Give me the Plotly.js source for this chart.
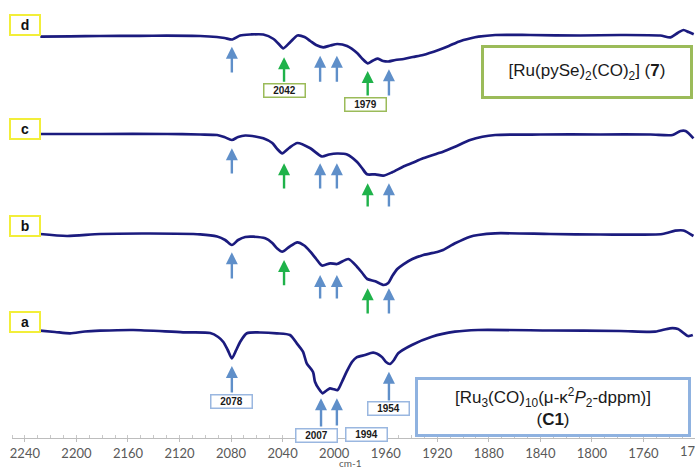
<!DOCTYPE html>
<html>
<head>
<meta charset="utf-8">
<script src="https://cdn.plot.ly/plotly-3.0.1.min.js"></script>
<style>html,body{margin:0;padding:0;background:#fff;}#chart{width:695px;height:467px;}</style>
</head>
<body>
<div id="chart"></div>
<script>
// ---- Data (wavenumber in cm-1, transmittance-like relative units, baseline ~100) ----
const wnD = [2228,2205,2182,2151,2130,2104,2091,2085,2079,2073,2065,2055,2047,2043,2039.5,2034,2028.5,2023,2018.5,2014,2008.5,2003,1997.5,1990,1982,1978,1974,1970.5,1966.5,1962,1958,1952.5,1946,1939,1931,1919,1911,1903.5,1894,1888,1875,1848,1809,1778,1747,1739,1733.5,1729,1725,1721];
const tD  = [98.3,98.7,99,99.2,99.3,99,98,97,95.5,99.5,100.5,100.5,96,91,86.7,93,99.5,98,94,90,87.7,89.5,91,89,81.7,76,71.7,74,76.3,74,73.5,75,76,78,80,85,89,93.3,96.7,98.3,100,100,99.5,100,99.5,97.7,102,105,103,100.7];

const wnC = [2228.3,2181.6,2129.6,2104,2090.8,2085.3,2079.4,2074.5,2069,2061.3,2055,2048,2044.2,2040.3,2035,2028.6,2018.5,2009.5,2004,1997.8,1990,1982.2,1978.4,1974.5,1968.2,1962,1955,1946.6,1939.6,1931,1919.4,1915.5,1906.2,1894.5,1885,1875,1840,1793.4,1754.5,1737.4,1731.2,1727.3,1721.2];
const tC  = [100,100,100,99.5,99,97,94,97,98.5,97.5,95.7,91,85,80.7,86,91,85.7,77.5,79.5,80.5,79.5,72,66,59.7,59.7,58.3,61.7,67.3,71,75.7,80.7,82.3,87.3,94,97.3,99,99.5,99.5,99.5,99,103,103,95.7];

const wnB = [2228.3,2207.3,2181.6,2142.8,2104,2090.8,2084.6,2079.4,2074.5,2069,2062.8,2053.5,2048,2044.2,2040.3,2035,2028.6,2023.2,2018.5,2013.9,2009.5,2003,1997.8,1989,1982.3,1978.2,1974.3,1968.1,1961.6,1958,1954.9,1951,1946.3,1939.3,1930.8,1919.4,1915.5,1906.2,1894.5,1888.3,1875.2,1832.4,1793.4,1745.3,1735.3,1729,1721.2];
const tB  = [100,98,100,100.5,99.7,97.5,94,89,94,97,97.3,95.7,91,85.5,82.3,87,91.7,88.5,82.3,75,68.5,70.7,70,75,67.3,61,55,52.7,49,51,58,65,69.7,75,79,82.3,84,90.7,97.3,99,100.7,100,99.5,100,103.3,103.5,98];

const wnA = [2228.3,2216.6,2205,2193.4,2181.6,2156,2117.3,2096.2,2090,2086,2082.6,2079.4,2076,2072.9,2067.7,2057.4,2044.5,2034.3,2029,2024.2,2021.3,2016.4,2014.9,2011.8,2008.9,2006.4,2003.3,2000.2,1997.3,1994,1990.3,1986.2,1982.6,1976.1,1969.7,1963.2,1959.8,1956.7,1953.6,1950.3,1939.7,1924.2,1906.3,1888.4,1832.5,1778.2,1751,1739.4,1733.2,1725.5,1721.7];
const tA  = [100.3,99,97.7,99.5,100.3,101,98.7,98,94,89,81,72.7,81,89.3,97.7,98.5,97.7,96,87.7,79.3,67.7,59,49.3,42,37.7,40,42.7,41.7,41,49,59.3,69,73.7,76,78.3,74.3,69,67,71,77.7,86,94.3,99.3,101,100.5,100,99.3,102.7,102,95,96];

const traceLetters = ["d","c","b","a"];
const tickVals = [2240,2200,2160,2120,2080,2040,2000,1960,1920,1880,1840,1800,1760];
const edgeTick = 1720;
const peakLabelsD = ["2042","1979"];
const peakLabelsA = ["2078","2007","1994","1954"];
const titleD = "[Ru(pySe)<sub>2</sub>(CO)<sub>2</sub>] (<b>7</b>)";
const titleA = "[Ru<sub>3</sub>(CO)<sub>10</sub>(μ-κ<sup>2</sup><i>P</i><sub>2</sub>-dppm)]<br>(<b>C1</b>)";
const xUnit = "cm-1";

// vertical stacking offsets (layout only)
const offsets = {d:303, c:204, b:104, a:7};
const H = 438; // y-axis span

function tr(x, t, off){
  return {x:x, y:t.map(v=>v+off), type:'scatter', mode:'lines',
    line:{color:'#1b1b7e', width:2.7, shape:'spline', smoothing:0.7},
    hoverinfo:'skip', showlegend:false};
}
const data = [tr(wnD,tD,offsets.d), tr(wnC,tC,offsets.c), tr(wnB,tB,offsets.b), tr(wnA,tA,offsets.a)];

const BLUE = '#5f8fc9', GREEN = '#1fb24a';
const ann = [];
function arrow(x, tipPy, tailPy, col){
  ann.push({x:x, y:H-tipPy, ax:x, ay:H-tailPy, xref:'x', yref:'y', axref:'x', ayref:'y',
    text:'', showarrow:true, arrowhead:2, arrowsize:1, arrowwidth:2.4, arrowcolor:col, standoff:0});
}
// trace d
arrow(2079.4,46.7,74,BLUE); arrow(2038.9,57.3,83.3,GREEN); arrow(2010.9,55.7,83.3,BLUE); arrow(1997.9,55.7,83.3,BLUE);
arrow(1974,71,97,GREEN); arrow(1957.5,69.3,97,BLUE);
// trace c
arrow(2079.4,148.3,175,BLUE); arrow(2038.9,163.3,190,GREEN); arrow(2010.9,163.3,190,BLUE); arrow(1997.9,163.3,190,BLUE);
arrow(1974,183.3,208,GREEN); arrow(1957.5,183.3,208,BLUE);
// trace b
arrow(2079.4,252.3,280,BLUE); arrow(2038.9,260,286.7,GREEN); arrow(2010.9,275,300,BLUE); arrow(1997.9,275,300,BLUE);
arrow(1974,288.3,315,GREEN); arrow(1957.5,288.3,315,BLUE);
// trace a
arrow(2079.4,366,394,BLUE); arrow(2010.2,398.3,428,BLUE); arrow(1997.9,398.3,427,BLUE); arrow(1957.5,371.7,402,BLUE);

function pbox(txt, x, py, col){
  ann.push({x:x, y:H-py, xref:'x', yref:'y', text:'<b>'+txt+'</b>', showarrow:false,
    font:{family:'Liberation Sans, Arial', size:10, color:'#1a1a1a'},
    bgcolor:'#ffffff', bordercolor:col, borderwidth:1.5, borderpad:1, width:38, height:10});
}
const OLIVE = '#9bbb59', LBLUE = '#9ab7e0';
pbox(peakLabelsD[0], 2038.5, 90, OLIVE);
pbox(peakLabelsD[1], 1975.5, 104, OLIVE);
pbox(peakLabelsA[0], 2079.4, 401, LBLUE);
pbox(peakLabelsA[1], 2014, 435, LBLUE);
pbox(peakLabelsA[2], 1975, 434.5, LBLUE);
pbox(peakLabelsA[3], 1957.5, 408, LBLUE);

const letterY = [25, 129, 226, 322];
traceLetters.forEach((L,i)=>{
  ann.push({x:2240, y:H-letterY[i], xref:'x', yref:'y', text:'<b>'+L+'</b>', showarrow:false,
    font:{family:'Liberation Sans, Arial', size:14, color:'#111'},
    bgcolor:'#ffffff', bordercolor:'#f2ee3a', borderwidth:2, borderpad:1, width:26, height:16});
});

ann.push({x:1803.5, y:H-72, xref:'x', yref:'y', text:titleD, showarrow:false,
  font:{family:'Liberation Sans, Arial', size:17, color:'#1a1a1a'},
  bgcolor:'#ffffff', bordercolor:'#9bbb59', borderwidth:3, borderpad:2, width:202, height:44});
ann.push({x:1830.5, y:H-406.5, xref:'x', yref:'y', text:titleA, showarrow:false,
  font:{family:'Liberation Sans, Arial', size:17, color:'#1a1a1a'},
  bgcolor:'#ffffff', bordercolor:'#8fb2e0', borderwidth:3, borderpad:2, width:266, height:50});

// partially visible last tick label (cut by the right edge as in the reference)
ann.push({x:1, y:-13/H, xref:'paper', yref:'paper', text:String(edgeTick), showarrow:false,
  xanchor:'center', yanchor:'middle',
  font:{family:'Lato, Liberation Sans', size:13, color:'#595959'}});

ann.push({x:0.495, y:-0.057, xref:'paper', yref:'paper', text:xUnit, showarrow:false,
  font:{family:'Lato, Liberation Sans', size:10, color:'#595959'}, yanchor:'middle'});

const layout = {
  width:695, height:467,
  margin:{l:12, r:0, t:0, b:29},
  paper_bgcolor:'#ffffff', plot_bgcolor:'#ffffff',
  xaxis:{range:[2250,1720], tickmode:'array', tickvals:tickVals, ticktext:tickVals.map(String),
    showgrid:false, zeroline:false, showline:true, linecolor:'#bdbdbd', linewidth:1,
    ticks:'outside', ticklen:3, tickcolor:'#bdbdbd',
    minor:{dtick:10, ticks:'inside', ticklen:3, tickcolor:'#c8c8c8', showgrid:false},
    tickfont:{family:'Lato, Liberation Sans', size:13, color:'#595959'}},
  yaxis:{range:[0,H], visible:false, fixedrange:true},
  annotations:ann,
  showlegend:false
};
Plotly.newPlot('chart', data, layout, {displayModeBar:false, staticPlot:true});
</script>
</body>
</html>
